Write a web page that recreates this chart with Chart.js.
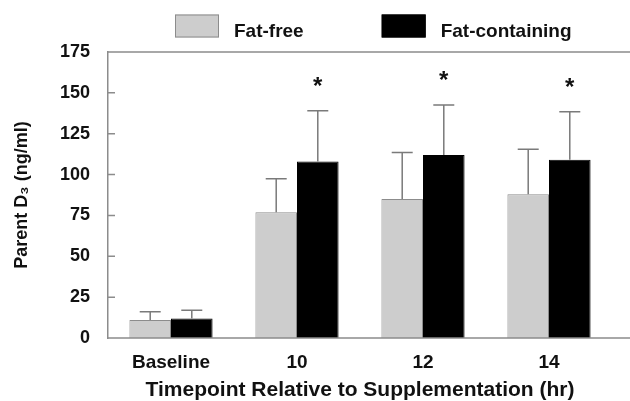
<!DOCTYPE html>
<html>
<head>
<meta charset="utf-8">
<script src="https://cdn.jsdelivr.net/npm/chart.js@4.4.0/dist/chart.umd.min.js"></script>
<style>
  html, body { margin: 0; padding: 0; background: #fff; }
  #wrap { width: 630px; height: 401px; }
</style>
</head>
<body>
<div id="wrap"><canvas id="d3Chart"></canvas></div>
<script>
// values (ng/ml), error bars are upper SD only
const timepoints = ['Baseline', '10', '12', '14'];
const fatFree = [11, 77, 85, 88];
const fatFreeSD = [5, 20.5, 28.5, 27.5];
const fatContaining = [12, 108, 112, 109];
const fatContainingSD = [5, 31, 30.5, 29.5];
const significant = [false, true, true, true]; // asterisk over fat-containing bar
const yTicks = [0, 25, 50, 75, 100, 125, 150, 175];

const FONT = 'Liberation Sans, Arial, Helvetica, sans-serif';
const axisGray = '#8c8c8c';
const textColor = '#111';

// top frame line, bottom axis line (both run to the right edge) and inward y ticks
const framePlugin = {
    id: 'frame',
    afterDatasetsDraw(chart) {
        const ctx = chart.ctx;
        const area = chart.chartArea;
        const yScale = chart.scales.y;
        ctx.save();
        ctx.strokeStyle = axisGray;
        ctx.lineWidth = 1.5;
        ctx.beginPath();
        ctx.moveTo(area.left, area.top);
        ctx.lineTo(chart.width, area.top);
        ctx.moveTo(area.left, area.bottom);
        ctx.lineTo(chart.width, area.bottom);
        yScale.ticks.forEach(t => {
            if (t.value === 0 || t.value === 175) return;
            const y = yScale.getPixelForValue(t.value);
            ctx.moveTo(area.left, y);
            ctx.lineTo(area.left + 7, y);
        });
        ctx.stroke();
        ctx.restore();
    }
};

// error bars (upper half) and significance stars
const errorPlugin = {
    id: 'errorBars',
    afterDatasetsDraw(chart) {
        const ctx = chart.ctx;
        const yScale = chart.scales.y;
        const errs = [fatFreeSD, fatContainingSD];
        ctx.save();
        chart.data.datasets.forEach((ds, di) => {
            const meta = chart.getDatasetMeta(di);
            meta.data.forEach((bar, i) => {
                const top = yScale.getPixelForValue(ds.data[i] + errs[di][i]);
                ctx.strokeStyle = '#7a7a7a';
                ctx.lineWidth = 1.5;
                ctx.beginPath();
                ctx.moveTo(bar.x, bar.y);
                ctx.lineTo(bar.x, top);
                ctx.moveTo(bar.x - 10.5, top);
                ctx.lineTo(bar.x + 10.5, top);
                ctx.stroke();
                if (di === 1 && significant[i]) {
                    ctx.fillStyle = textColor;
                    ctx.font = 'bold 24px ' + FONT;
                    ctx.textAlign = 'center';
                    ctx.textBaseline = 'alphabetic';
                    ctx.fillText('*', bar.x, top - 17);
                }
            });
        });
        ctx.restore();
    }
};

// legend drawn like the original (boxes well apart from their labels)
const legendPlugin = {
    id: 'boxLegend',
    afterDraw(chart) {
        const ctx = chart.ctx;
        let x = 175;
        ctx.save();
        ctx.font = 'bold 19px ' + FONT;
        ctx.textBaseline = 'alphabetic';
        ctx.textAlign = 'left';
        chart.data.datasets.forEach(ds => {
            ctx.fillStyle = ds.backgroundColor;
            ctx.fillRect(x, 14.5, 44, 23);
            ctx.strokeStyle = ds.borderColor;
            ctx.lineWidth = 1;
            ctx.strokeRect(x + 0.5, 15, 43, 22);
            ctx.fillStyle = textColor;
            ctx.fillText(ds.label, x + 59, 37);
            x += 59 + ctx.measureText(ds.label).width + 78;
        });
        ctx.restore();
    }
};

const ctx = document.getElementById('d3Chart').getContext('2d');
const d3Chart = new Chart(ctx, {
    type: 'bar',
    data: {
        labels: timepoints,
        datasets: [{
            label: 'Fat-free',
            data: fatFree,
            backgroundColor: '#cdcdcd',
            borderColor: '#8c8c8c',
            borderWidth: 1
        }, {
            label: 'Fat-containing',
            data: fatContaining,
            backgroundColor: '#000000',
            borderColor: '#000000',
            borderWidth: 1
        }]
    },
    options: {
        responsive: true,
        maintainAspectRatio: false,
        animation: false,
        layout: { padding: { top: 52, right: 18, left: 0, bottom: 0 } },
        datasets: {
            bar: { categoryPercentage: 0.66, barPercentage: 1.0 }
        },
        plugins: {
            legend: { display: false },
            tooltip: { enabled: false }
        },
        scales: {
            x: {
                afterFit: scale => { scale.height = 63; },
                grid: { display: false, drawTicks: false },
                border: { display: false },
                ticks: {
                    padding: 15,
                    color: textColor,
                    font: { family: FONT, size: 19, weight: 'bold', lineHeight: 1 }
                },
                title: {
                    display: true,
                    text: 'Timepoint Relative to Supplementation (hr)',
                    color: textColor,
                    padding: { top: 8, bottom: 0 },
                    font: { family: FONT, size: 21, weight: 'bold', lineHeight: 1 }
                }
            },
            y: {
                min: 0,
                max: 175,
                afterBuildTicks: scale => {
                    scale.ticks = yTicks.map(v => ({ value: v }));
                },
                afterFit: scale => { scale.width = 108; },
                grid: { display: false, drawTicks: false },
                border: { display: true, color: axisGray, width: 1.5 },
                ticks: {
                    padding: 18,
                    color: textColor,
                    font: { family: FONT, size: 18, weight: 'bold', lineHeight: 1 }
                },
                title: {
                    display: true,
                    text: 'Parent D\u2083 (ng/ml)',
                    color: textColor,
                    padding: { top: 13, bottom: 0 },
                    font: { family: FONT, size: 18, weight: 'bold', lineHeight: 1 }
                }
            }
        }
    },
    plugins: [framePlugin, errorPlugin, legendPlugin]
});
</script>
</body>
</html>
